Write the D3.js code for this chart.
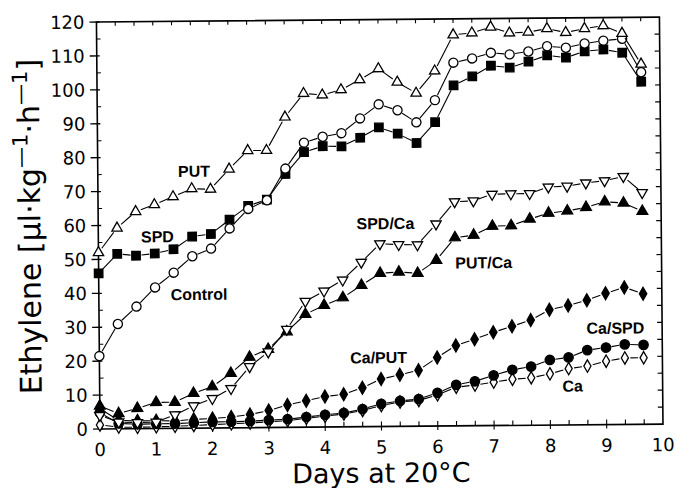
<!DOCTYPE html>
<html>
<head>
<meta charset="utf-8">
<script src="https://cdn.jsdelivr.net/npm/d3@7/dist/d3.min.js"></script>
<style>
  html, body { margin: 0; padding: 0; background: #fff; }
  svg { display: block; }
</style>
</head>
<body>
<div id="chart"></div>
<script>
// sampling days (every 8 h)
var days = d3.range(30).map(function(i) { return i / 3; });

var putVals     = [52.0, 59.2, 64.0, 66.0, 68.3, 70.6, 70.4, 76.3, 81.7, 81.7, 91.5, 98.4, 97.9, 99.4, 102.3, 105.5, 101.5, 98.2, 104.7, 115.3, 115.8, 117.5, 115.7, 115.9, 116.9, 115.7, 116.8, 117.6, 115.3, 106.2];
var controlVals = [21.5, 30.9, 36.0, 41.6, 45.9, 50.7, 52.9, 58.8, 64.5, 67.0, 76.3, 83.9, 85.6, 86.6, 90.9, 95.0, 93.2, 89.6, 96.1, 107.1, 108.3, 109.9, 109.4, 110.2, 111.7, 111.2, 112.4, 113.2, 113.7, 103.8];
var spdVals     = [45.9, 51.6, 51.0, 51.6, 52.8, 56.5, 57.2, 61.4, 65.4, 67.2, 74.7, 81.1, 82.8, 82.7, 85.2, 88.2, 86.3, 83.5, 89.6, 100.4, 103.0, 106.1, 105.5, 107.2, 109.0, 108.3, 110.1, 110.6, 109.6, 101.0];
var spdCaVals   = [4.0, 2.0, 1.8, 1.9, 4.0, 6.6, 8.7, 11.6, 18.0, 22.3, 28.9, 37.1, 40.1, 43.3, 48.5, 53.9, 53.6, 53.5, 59.6, 66.1, 66.3, 68.2, 68.3, 68.3, 70.2, 70.4, 71.3, 71.9, 73.1, 68.3];
var putCaVals   = [6.8, 4.5, 6.0, 7.7, 7.7, 10.3, 12.2, 16.1, 20.8, 23.1, 28.2, 33.3, 35.9, 38.1, 41.7, 45.2, 45.5, 45.1, 48.9, 55.5, 56.2, 58.8, 58.9, 60.8, 62.5, 63.1, 64.1, 65.7, 65.3, 62.8];
var caPutVals   = [6.0, 2.5, 2.3, 2.3, 2.2, 2.6, 2.8, 3.2, 3.9, 5.0, 6.6, 7.8, 9.0, 9.6, 11.5, 14.0, 15.2, 16.5, 20.2, 23.7, 25.5, 27.5, 29.2, 31.0, 34.0, 35.2, 36.7, 38.7, 40.4, 38.5];
var caSpdVals   = [4.8, 1.6, 1.3, 1.4, 1.4, 1.6, 1.8, 1.8, 1.9, 2.2, 2.4, 3.0, 3.6, 4.1, 5.2, 6.7, 7.5, 8.0, 9.8, 12.1, 13.1, 14.8, 16.4, 17.3, 19.2, 19.9, 22.0, 22.7, 23.6, 23.4];
var caVals      = [1.2, 0.5, 0.4, 0.5, 0.6, 0.8, 1.0, 1.2, 1.4, 1.7, 2.0, 2.6, 3.2, 3.8, 4.8, 6.2, 7.2, 7.6, 9.2, 11.4, 12.0, 12.8, 13.6, 14.0, 15.1, 16.6, 17.3, 18.7, 19.6, 19.6];

var seriesNames = ['Ca', 'Ca/SPD', 'Ca/PUT', 'PUT/Ca', 'SPD/Ca', 'SPD', 'Control', 'PUT'];
var seriesVals  = [caVals, caSpdVals, caPutVals, putCaVals, spdCaVals, spdVals, controlVals, putVals];
// label anchor points, in data units [day, ethylene]
var labelDays = [8.4, 9.17, 4.96, 6.84, 5.10, 1.05, 1.78, 1.71];
var labelVals = [11.5, 28.5, 20.4, 48.1, 59.9, 56.6, 39.5, 75.8];

var xTicks = d3.range(0, 11);
var yTicks = d3.range(0, 121, 10);

var W = 676, H = 488;
var pL = 100, pR = 663, pT = 22, pB = 429;

var x = d3.scaleLinear().domain([0, 10]).range([pL, pR]);
var y = d3.scaleLinear().domain([0, 120]).range([pB, pT]);

var marker = {
  'PUT':     { type: d3.symbolTriangle, size: 46, fill: '#fff', rot: 0 },
  'Control': { type: d3.symbolCircle,   size: 66, fill: '#fff', rot: 0 },
  'SPD':     { type: d3.symbolSquare,   size: 72, fill: '#000', rot: 0 },
  'SPD/Ca':  { type: d3.symbolTriangle, size: 46, fill: '#fff', rot: 180 },
  'PUT/Ca':  { type: d3.symbolTriangle, size: 50, fill: '#000', rot: 0 },
  'Ca/PUT':  { type: d3.symbolDiamond,  size: 48, fill: '#000', rot: 0 },
  'Ca/SPD':  { type: d3.symbolCircle,   size: 70, fill: '#000', rot: 0 },
  'Ca':      { type: d3.symbolDiamond,  size: 44, fill: '#fff', rot: 0 }
};

var svg = d3.select('#chart').append('svg')
  .attr('width', W).attr('height', H);

// the scanned figure is a little tilted
var g = svg.append('g')
  .attr('transform', 'rotate(-0.5,' + pL + ',' + pB + ')');

// frame
g.append('rect')
  .attr('x', pL).attr('y', pT)
  .attr('width', pR - pL).attr('height', pB - pT)
  .attr('fill', 'none').attr('stroke', '#000').attr('stroke-width', 1.6);

// y ticks left: major outward, minor inward
g.selectAll('.ymaj').data(yTicks).enter().append('line')
  .attr('x1', pL - 7).attr('x2', pL + 3)
  .attr('y1', function(d) { return y(d); }).attr('y2', function(d) { return y(d); })
  .attr('stroke', '#000').attr('stroke-width', 1.3);
g.selectAll('.ymin').data(d3.range(5, 120, 10)).enter().append('line')
  .attr('x1', pL).attr('x2', pL + 4)
  .attr('y1', function(d) { return y(d); }).attr('y2', function(d) { return y(d); })
  .attr('stroke', '#000').attr('stroke-width', 1);
// right ticks every 5, inward
g.selectAll('.yr').data(d3.range(5, 120, 5)).enter().append('line')
  .attr('x1', pR - 5).attr('x2', pR)
  .attr('y1', function(d) { return y(d); }).attr('y2', function(d) { return y(d); })
  .attr('stroke', '#000').attr('stroke-width', 1.2);

// x ticks every 1/3 day, bottom and top
var thirds = d3.range(1, 30).map(function(i) { return i / 3; });
g.selectAll('.xb').data(thirds).enter().append('line')
  .attr('x1', function(d) { return x(d); }).attr('x2', function(d) { return x(d); })
  .attr('y1', pB - 5).attr('y2', function(d, i) { return (i + 1) % 3 === 0 ? pB + 4 : pB; })
  .attr('stroke', '#000').attr('stroke-width', 1.1);
g.selectAll('.xt').data(thirds).enter().append('line')
  .attr('x1', function(d) { return x(d); }).attr('x2', function(d) { return x(d); })
  .attr('y1', pT).attr('y2', pT + 4)
  .attr('stroke', '#000').attr('stroke-width', 1.1);

// tick labels
g.selectAll('.yl').data(yTicks).enter().append('text')
  .attr('x', pL - 12).attr('y', function(d) { return y(d); })
  .attr('dy', '0.36em').attr('text-anchor', 'end')
  .style('font', '18px "DejaVu Sans", sans-serif')
  .text(function(d) { return d; });
g.selectAll('.xl').data(xTicks).enter().append('text')
  .attr('x', function(d) { return x(d); }).attr('y', pB + 27)
  .attr('text-anchor', 'middle')
  .style('font', '18px "DejaVu Sans", sans-serif')
  .text(function(d) { return d; });

// axis titles
g.append('text')
  .attr('x', 381).attr('y', 485)
  .attr('text-anchor', 'middle')
  .style('font', '27px "DejaVu Sans", sans-serif')
  .text('Days at 20°C');

var yt = g.append('text')
  .attr('transform', 'translate(42,226) rotate(-90)')
  .attr('text-anchor', 'middle')
  .style('font', '30px "DejaVu Sans", sans-serif');
yt.append('tspan').text('Ethylene [μl·kg');
yt.append('tspan').attr('dy', -12).style('font-size', '21px').text('—1');
yt.append('tspan').attr('dy', 12).text('·h');
yt.append('tspan').attr('dy', -12).style('font-size', '21px').text('—1');
yt.append('tspan').attr('dy', 12).text(']');

// series: segments broken around the markers
var gap = 5.5;
seriesNames.forEach(function(name, s) {
  var vals = seriesVals[s];
  var pts = vals.map(function(v, i) { return [x(days[i]), y(v)]; });
  var segs = d3.pairs(pts).map(function(p) {
    var dx = p[1][0] - p[0][0], dy = p[1][1] - p[0][1];
    var len = Math.sqrt(dx * dx + dy * dy);
    if (len <= 2 * gap) return null;
    var ux = dx / len, uy = dy / len;
    return [p[0][0] + ux * gap, p[0][1] + uy * gap, p[1][0] - ux * gap, p[1][1] - uy * gap];
  }).filter(function(d) { return d; });

  var sg = g.append('g').attr('class', 'series');
  sg.selectAll('line').data(segs).enter().append('line')
    .attr('x1', function(d) { return d[0]; }).attr('y1', function(d) { return d[1]; })
    .attr('x2', function(d) { return d[2]; }).attr('y2', function(d) { return d[3]; })
    .attr('stroke', '#000').attr('stroke-width', 1.1);

  var m = marker[name];
  var sym = d3.symbol().type(m.type).size(m.size);
  sg.selectAll('path').data(vals).enter().append('path')
    .attr('d', sym)
    .attr('transform', function(d, i) {
      return 'translate(' + x(days[i]) + ',' + y(d) + ') rotate(' + m.rot + ')';
    })
    .attr('fill', m.fill).attr('stroke', '#000').attr('stroke-width', 1.3);
});

// series labels
g.selectAll('.lab').data(seriesNames).enter().append('text')
  .attr('x', function(d, i) { return x(labelDays[i]); })
  .attr('y', function(d, i) { return y(labelVals[i]); })
  .attr('dy', '0.36em').attr('text-anchor', 'middle')
  .style('font', 'bold 16px "Liberation Sans", Arial, sans-serif')
  .text(function(d) { return d; });
</script>
</body>
</html>
